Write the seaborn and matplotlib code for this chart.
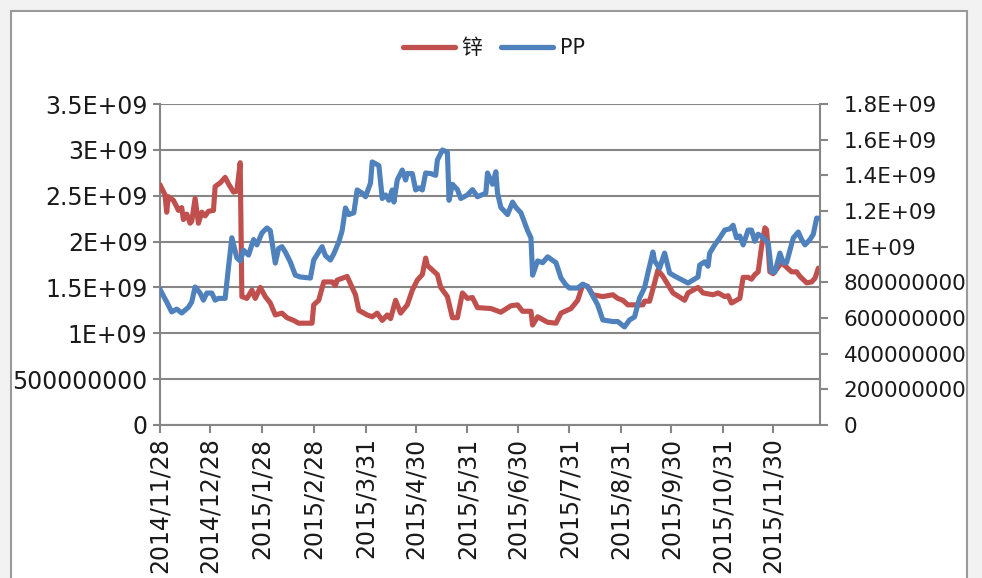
import pandas as pd
import matplotlib.pyplot as plt
from matplotlib.patches import Rectangle
from matplotlib.lines import Line2D
import seaborn as sns

# 锌 (left axis)
zinc_dates = [
    '2014-11-28', '2014-12-01', '2014-12-02', '2014-12-03', '2014-12-06', '2014-12-08', '2014-12-09',
    '2014-12-11', '2014-12-12', '2014-12-14', '2014-12-16', '2014-12-17', '2014-12-19', '2014-12-21',
    '2014-12-23', '2014-12-25', '2014-12-27', '2014-12-30', '2014-12-31', '2015-01-03', '2015-01-06',
    '2015-01-08', '2015-01-11', '2015-01-13', '2015-01-15', '2015-01-16', '2015-01-19', '2015-01-22',
    '2015-01-24', '2015-01-27', '2015-01-30', '2015-02-02', '2015-02-05', '2015-02-09', '2015-02-12',
    '2015-02-16', '2015-02-19', '2015-02-27', '2015-02-28', '2015-03-03', '2015-03-06', '2015-03-11',
    '2015-03-13', '2015-03-14', '2015-03-20', '2015-03-23', '2015-03-25', '2015-03-27', '2015-04-01',
    '2015-04-04', '2015-04-07', '2015-04-10', '2015-04-13', '2015-04-15', '2015-04-18', '2015-04-21',
    '2015-04-25', '2015-04-28', '2015-05-01', '2015-05-04', '2015-05-06', '2015-05-07', '2015-05-13',
    '2015-05-15', '2015-05-19', '2015-05-22', '2015-05-25', '2015-05-28', '2015-05-31', '2015-06-03',
    '2015-06-06', '2015-06-14', '2015-06-20', '2015-06-26', '2015-06-30', '2015-07-03', '2015-07-08',
    '2015-07-09', '2015-07-12', '2015-07-18', '2015-07-23', '2015-07-26', '2015-08-01', '2015-08-05',
    '2015-08-08', '2015-08-11', '2015-08-14', '2015-08-20', '2015-08-26', '2015-08-29', '2015-09-01',
    '2015-09-04', '2015-09-13', '2015-09-14', '2015-09-17', '2015-09-20', '2015-09-22', '2015-09-25',
    '2015-09-28', '2015-10-01', '2015-10-08', '2015-10-10', '2015-10-16', '2015-10-19', '2015-10-25',
    '2015-10-28', '2015-11-01', '2015-11-03', '2015-11-05', '2015-11-10', '2015-11-12', '2015-11-15',
    '2015-11-17', '2015-11-19', '2015-11-21', '2015-11-23', '2015-11-25', '2015-11-26', '2015-11-27',
    '2015-11-28', '2015-11-30', '2015-12-05', '2015-12-08', '2015-12-11', '2015-12-14', '2015-12-16',
    '2015-12-20', '2015-12-23', '2015-12-25', '2015-12-27',
]
zinc_values = [  # 1e9
    2.62, 2.51, 2.32, 2.49, 2.45, 2.38, 2.34,
    2.37, 2.24, 2.30, 2.20, 2.22, 2.47, 2.20,
    2.32, 2.28, 2.33, 2.34, 2.60, 2.64, 2.70,
    2.63, 2.54, 2.55, 2.86, 1.40, 1.38, 1.47,
    1.38, 1.50, 1.40, 1.33, 1.20, 1.22, 1.17,
    1.14, 1.11, 1.11, 1.31, 1.36, 1.56, 1.56,
    1.52, 1.58, 1.62, 1.50, 1.42, 1.25, 1.20,
    1.18, 1.22, 1.14, 1.20, 1.16, 1.36, 1.22,
    1.31, 1.47, 1.58, 1.64, 1.82, 1.74, 1.64,
    1.50, 1.40, 1.17, 1.17, 1.44, 1.38, 1.39,
    1.28, 1.27, 1.23, 1.30, 1.31, 1.24, 1.24,
    1.09, 1.18, 1.12, 1.11, 1.22, 1.27, 1.36,
    1.53, 1.51, 1.42, 1.40, 1.42, 1.38, 1.36,
    1.31, 1.31, 1.35, 1.35, 1.55, 1.69, 1.62,
    1.53, 1.44, 1.36, 1.44, 1.50, 1.44, 1.42,
    1.44, 1.40, 1.41, 1.33, 1.38, 1.61, 1.61,
    1.59, 1.64, 1.67, 1.94, 2.15, 2.13, 1.92,
    1.67, 1.65, 1.77, 1.72, 1.67, 1.67, 1.62,
    1.55, 1.56, 1.60, 1.71,
]

# PP (right axis)
pp_dates = [
    '2014-11-28', '2014-12-02', '2014-12-05', '2014-12-08', '2014-12-11', '2014-12-15', '2014-12-17',
    '2014-12-19', '2014-12-22', '2014-12-24', '2014-12-26', '2014-12-29', '2014-12-31', '2015-01-02',
    '2015-01-06', '2015-01-08', '2015-01-10', '2015-01-13', '2015-01-15', '2015-01-17', '2015-01-20',
    '2015-01-23', '2015-01-25', '2015-01-28', '2015-01-31', '2015-02-02', '2015-02-05', '2015-02-07',
    '2015-02-09', '2015-02-11', '2015-02-14', '2015-02-17', '2015-02-20', '2015-02-26', '2015-02-28',
    '2015-03-03', '2015-03-05', '2015-03-07', '2015-03-10', '2015-03-12', '2015-03-15', '2015-03-17',
    '2015-03-19', '2015-03-21', '2015-03-24', '2015-03-26', '2015-03-29', '2015-03-31', '2015-04-03',
    '2015-04-04', '2015-04-08', '2015-04-10', '2015-04-12', '2015-04-14', '2015-04-16', '2015-04-17',
    '2015-04-19', '2015-04-22', '2015-04-24', '2015-04-25', '2015-04-28', '2015-04-30', '2015-05-02',
    '2015-05-04', '2015-05-06', '2015-05-09', '2015-05-12', '2015-05-13', '2015-05-16', '2015-05-19',
    '2015-05-20', '2015-05-22', '2015-05-25', '2015-05-27', '2015-05-31', '2015-06-03', '2015-06-06',
    '2015-06-11', '2015-06-12', '2015-06-15', '2015-06-17', '2015-06-18', '2015-06-20', '2015-06-24',
    '2015-06-27', '2015-06-29', '2015-07-02', '2015-07-06', '2015-07-08', '2015-07-09', '2015-07-12',
    '2015-07-15', '2015-07-18', '2015-07-23', '2015-07-26', '2015-07-29', '2015-07-31', '2015-08-05',
    '2015-08-08', '2015-08-11', '2015-08-17', '2015-08-20', '2015-08-26', '2015-08-29', '2015-09-02',
    '2015-09-05', '2015-09-08', '2015-09-11', '2015-09-14', '2015-09-16', '2015-09-19', '2015-09-20',
    '2015-09-23', '2015-09-26', '2015-09-29', '2015-10-02', '2015-10-10', '2015-10-16', '2015-10-17',
    '2015-10-20', '2015-10-22', '2015-10-23', '2015-10-26', '2015-10-29', '2015-11-01', '2015-11-04',
    '2015-11-06', '2015-11-08', '2015-11-10', '2015-11-12', '2015-11-15', '2015-11-17', '2015-11-19',
    '2015-11-21', '2015-11-24', '2015-11-27', '2015-11-29', '2015-12-01', '2015-12-04', '2015-12-06',
    '2015-12-08', '2015-12-10', '2015-12-12', '2015-12-15', '2015-12-17', '2015-12-19', '2015-12-22',
    '2015-12-24', '2015-12-26', '2015-12-27',
]
pp_values = [  # 1e9
    0.76, 0.69, 0.634, 0.65, 0.628, 0.66, 0.69,
    0.774, 0.74, 0.70, 0.74, 0.74, 0.70, 0.71,
    0.71, 0.886, 1.05, 0.937, 0.92, 0.98, 0.953,
    1.04, 1.01, 1.077, 1.105, 1.09, 0.908, 0.99,
    1.00, 0.97, 0.914, 0.84, 0.83, 0.824, 0.925,
    0.97, 1.00, 0.95, 0.925, 0.96, 1.026, 1.09,
    1.217, 1.18, 1.19, 1.318, 1.30, 1.28, 1.357,
    1.475, 1.455, 1.27, 1.29, 1.26, 1.318, 1.25,
    1.374, 1.43, 1.374, 1.41, 1.41, 1.318, 1.33,
    1.318, 1.413, 1.41, 1.40, 1.486, 1.542, 1.53,
    1.26, 1.35, 1.32, 1.27, 1.29, 1.32, 1.28,
    1.30, 1.413, 1.35, 1.42, 1.30, 1.22, 1.18,
    1.25, 1.22, 1.19, 1.09, 1.05, 0.84, 0.92,
    0.91, 0.943, 0.91, 0.824, 0.785, 0.768, 0.768,
    0.79, 0.775, 0.673, 0.589, 0.58, 0.58, 0.55,
    0.589, 0.606, 0.712, 0.77, 0.852, 0.97, 0.92,
    0.88, 0.964, 0.852, 0.835, 0.796, 0.83, 0.897,
    0.915, 0.89, 0.964, 1.01, 1.049, 1.093, 1.10,
    1.12, 1.05, 1.06, 1.01, 1.093, 1.093, 1.03,
    1.07, 1.05, 1.02, 0.858, 0.858, 0.964, 0.91,
    0.91, 0.98, 1.049, 1.082, 1.04, 1.01, 1.04,
    1.07, 1.16, 1.16,
]

x_ticks = ['2014-11-28', '2014-12-28', '2015-01-28', '2015-02-28', '2015-03-31', '2015-04-30',
           '2015-05-31', '2015-06-30', '2015-07-31', '2015-08-31', '2015-09-30', '2015-10-31',
           '2015-11-30']
left_ticks = [0, 5e8, 1e9, 1.5e9, 2e9, 2.5e9, 3e9, 3.5e9]
left_labels = ['0', '500000000', '1E+09', '1.5E+09', '2E+09', '2.5E+09', '3E+09', '3.5E+09']
right_ticks = [0, 2e8, 4e8, 6e8, 8e8, 1e9, 1.2e9, 1.4e9, 1.6e9, 1.8e9]
right_labels = ['0', '200000000', '400000000', '600000000', '800000000', '1E+09',
                '1.2E+09', '1.4E+09', '1.6E+09', '1.8E+09']

red = '#c0504d'
blue = '#4f81bd'
grid_c = '#868686'

sns.set_theme(style="white")
plt.rcParams['font.family'] = ['DejaVu Sans', 'Noto Sans CJK SC']

zinc = pd.DataFrame({'date': pd.to_datetime(zinc_dates), 'value': [v * 1e9 for v in zinc_values]})
pp = pd.DataFrame({'date': pd.to_datetime(pp_dates), 'value': [v * 1e9 for v in pp_values]})

fig = plt.figure(figsize=(9.82, 5.78), dpi=100, facecolor='#f2f2f2')
fig.patches.append(Rectangle((11 / 982, -0.05), 956 / 982, 1.05 - 11 / 578,
                             transform=fig.transFigure, facecolor='white',
                             edgecolor='#9a9a9a', linewidth=1.5, zorder=-5))

ax = fig.add_axes([160 / 982, 1 - 425 / 578, 660 / 982, 321 / 578])
ax.set_facecolor('none')
ax2 = ax.twinx()
ax2.set_facecolor('none')

sns.lineplot(data=zinc, x='date', y='value', ax=ax, color=red, linewidth=3.7, zorder=3)
sns.lineplot(data=pp, x='date', y='value', ax=ax2, color=blue, linewidth=3.7, zorder=3)

ax.set_xlim(pd.Timestamp('2014-11-28'), pd.Timestamp('2015-12-28'))
ax.set_ylim(0, 3.5e9)
ax2.set_ylim(0, 1.8e9)

ax.set_yticks(left_ticks)
ax.set_yticklabels(left_labels)
ax2.set_yticks(right_ticks)
ax2.set_yticklabels(right_labels)

tick_dates = pd.to_datetime(x_ticks)
ax.set_xticks(tick_dates)
ax.set_xticklabels([f'{d.year}/{d.month}/{d.day}' for d in tick_dates], rotation=90, va='top')

ax.yaxis.grid(True, color=grid_c, linewidth=1.5)
ax.set_axisbelow(True)
ax.set_xlabel('')
ax.set_ylabel('')
ax2.set_ylabel('')

for a in (ax, ax2):
    for s in a.spines.values():
        s.set_visible(False)
ax.spines['left'].set_visible(True)
ax.spines['left'].set_color(grid_c)
ax.spines['left'].set_linewidth(1.5)
ax.spines['bottom'].set_visible(True)
ax.spines['bottom'].set_color(grid_c)
ax.spines['bottom'].set_linewidth(1.5)
ax2.spines['right'].set_visible(True)
ax2.spines['right'].set_color(grid_c)
ax2.spines['right'].set_linewidth(1.5)

ax.tick_params(axis='y', which='major', length=5, width=1.5, color=grid_c, labelsize=17,
               labelcolor='#1a1a1a', pad=4, left=True)
ax.tick_params(axis='x', which='major', length=6, width=1.5, color=grid_c, labelsize=17,
               labelcolor='#1a1a1a', pad=3, bottom=True)
ax2.tick_params(axis='y', which='major', length=6, width=1.5, color=grid_c, labelsize=15.5,
                labelcolor='#1a1a1a', pad=11, right=True)

handles = [Line2D([], [], color=red, linewidth=3.8, solid_capstyle='round'),
           Line2D([], [], color=blue, linewidth=3.8, solid_capstyle='round')]
fig.legend(handles, ['锌', 'PP'], loc='center', bbox_to_anchor=(494 / 982, 1 - 48 / 578),
           ncol=2, frameon=False, fontsize=15, handlelength=2.5, columnspacing=0.9,
           handletextpad=0.3, labelcolor='#1a1a1a')

fig.savefig('out.png', dpi=100, facecolor=fig.get_facecolor())
